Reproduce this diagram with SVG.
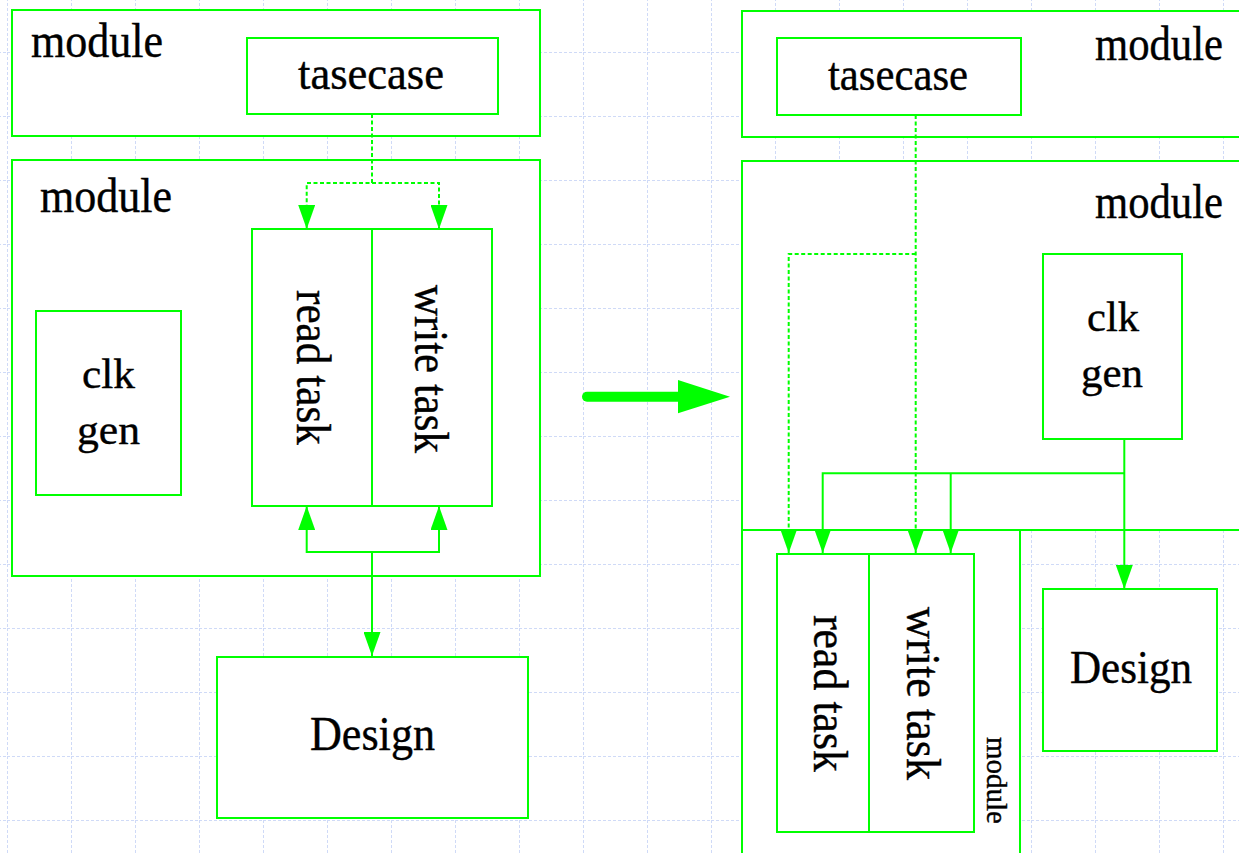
<svg xmlns="http://www.w3.org/2000/svg" width="1239" height="853" viewBox="0 0 1239 853">
<style>
.box{fill:#fff;stroke:#00ff00;stroke-width:2}
.ln{fill:none;stroke:#00ff00;stroke-width:2}
.dash{stroke-dasharray:4 2.5}
.t{font-family:"Liberation Serif","Times New Roman",serif;fill:#000;stroke:#000;stroke-width:0.4}
.grid{stroke:#cfdaf7;stroke-width:1;stroke-dasharray:3 2;fill:none}
</style>
<defs>
<pattern id="gp" x="7" y="52" width="64" height="64" patternUnits="userSpaceOnUse">
<path class="grid" d="M0.5,0 V64 M0,0.5 H64"/>
</pattern>
<marker id="ah" viewBox="0 0 24 17" refX="24" refY="8.5" markerWidth="24" markerHeight="17" markerUnits="userSpaceOnUse" orient="auto">
<path d="M0,0 L24,8.5 L0,17 Z" fill="#00ff00"/>
</marker>
</defs>
<rect width="1239" height="853" fill="#fff"/>
<rect width="1239" height="853" fill="url(#gp)"/>

<g id="left-top-module">
<rect class="box" x="12" y="10" width="528" height="126"/>
<text class="t" x="31" y="57" font-size="49" textLength="132" lengthAdjust="spacingAndGlyphs">module</text>
</g>
<g id="left-tasecase">
<rect class="box" x="247" y="38" width="251" height="76"/>
<text class="t" x="298" y="89" font-size="47" textLength="146" lengthAdjust="spacingAndGlyphs">tasecase</text>
</g>
<g id="left-module2">
<rect class="box" x="12" y="160" width="528" height="416"/>
<text class="t" x="40" y="212" font-size="49" textLength="132" lengthAdjust="spacingAndGlyphs">module</text>
</g>
<g id="left-clkgen">
<rect class="box" x="36" y="311" width="145" height="184"/>
<text class="t" x="82" y="388" font-size="43" textLength="53" lengthAdjust="spacingAndGlyphs">clk</text>
<text class="t" x="77" y="444" font-size="43" textLength="63" lengthAdjust="spacingAndGlyphs">gen</text>
</g>
<g id="left-readtask">
<rect class="box" x="252" y="229" width="120" height="277"/>
<text class="t" transform="translate(297,290) rotate(90)" font-size="49" textLength="155" lengthAdjust="spacingAndGlyphs">read task</text>
</g>
<g id="left-writetask">
<rect class="box" x="372" y="229" width="120" height="277"/>
<text class="t" transform="translate(415,285) rotate(90)" font-size="49" textLength="168" lengthAdjust="spacingAndGlyphs">write task</text>
</g>
<g id="left-design">
<rect class="box" x="217" y="657" width="311" height="161"/>
<text class="t" x="310" y="750" font-size="48" textLength="125" lengthAdjust="spacingAndGlyphs">Design</text>
</g>

<g id="right-top-module">
<rect class="box" x="742" y="11" width="520" height="126"/>
<text class="t" x="1095" y="60" font-size="49" textLength="128" lengthAdjust="spacingAndGlyphs">module</text>
</g>
<g id="right-tasecase">
<rect class="box" x="777" y="38" width="244" height="77"/>
<text class="t" x="828" y="90" font-size="47" textLength="140" lengthAdjust="spacingAndGlyphs">tasecase</text>
</g>
<g id="right-module2">
<rect class="box" x="742" y="161" width="520" height="369"/>
<text class="t" x="1095" y="218" font-size="49" textLength="128" lengthAdjust="spacingAndGlyphs">module</text>
</g>
<g id="right-clkgen">
<rect class="box" x="1043" y="254" width="139" height="185"/>
<text class="t" x="1087" y="331" font-size="43" textLength="52" lengthAdjust="spacingAndGlyphs">clk</text>
<text class="t" x="1081" y="387" font-size="43" textLength="62" lengthAdjust="spacingAndGlyphs">gen</text>
</g>
<g id="right-module3">
<rect class="box" x="742" y="530" width="278" height="340"/>
<text class="t" transform="translate(987,737) rotate(90)" font-size="29" textLength="87" lengthAdjust="spacingAndGlyphs">module</text>
</g>
<g id="right-readtask">
<rect class="box" x="777" y="554" width="92" height="278"/>
<text class="t" transform="translate(814,615) rotate(90)" font-size="49" textLength="157" lengthAdjust="spacingAndGlyphs">read task</text>
</g>
<g id="right-writetask">
<rect class="box" x="869" y="554" width="105" height="278"/>
<text class="t" transform="translate(907,607) rotate(90)" font-size="49" textLength="173" lengthAdjust="spacingAndGlyphs">write task</text>
</g>
<g id="right-design">
<rect class="box" x="1043" y="589" width="174" height="162"/>
<text class="t" x="1070" y="683" font-size="47" textLength="122" lengthAdjust="spacingAndGlyphs">Design</text>
</g>

<g id="connectors">
<path class="ln dash" d="M372,114 V183 H306.7 V229" marker-end="url(#ah)"/>
<path class="ln dash" d="M372,183 H439 V229" marker-end="url(#ah)"/>
<path class="ln" d="M372,552 H306.7 V506" marker-end="url(#ah)"/>
<path class="ln" d="M372,552 H439 V506" marker-end="url(#ah)"/>
<path class="ln" d="M372,552 V656" marker-end="url(#ah)"/>
<path class="ln dash" d="M915.7,115 V553" marker-end="url(#ah)"/>
<path class="ln dash" d="M915.7,254 H788.7 V553" marker-end="url(#ah)"/>
<path class="ln" d="M1124.3,439 V589" marker-end="url(#ah)"/>
<path class="ln" d="M1124.3,473.3 H822.7 V553" marker-end="url(#ah)"/>
<path class="ln" d="M950.7,473.3 V553" marker-end="url(#ah)"/>
<line x1="587" y1="396.7" x2="682" y2="396.7" stroke="#00ff00" stroke-width="10" stroke-linecap="round"/>
<path d="M678,380 L730,396.7 L678,413.3 Z" fill="#00ff00"/>
</g>
</svg>
